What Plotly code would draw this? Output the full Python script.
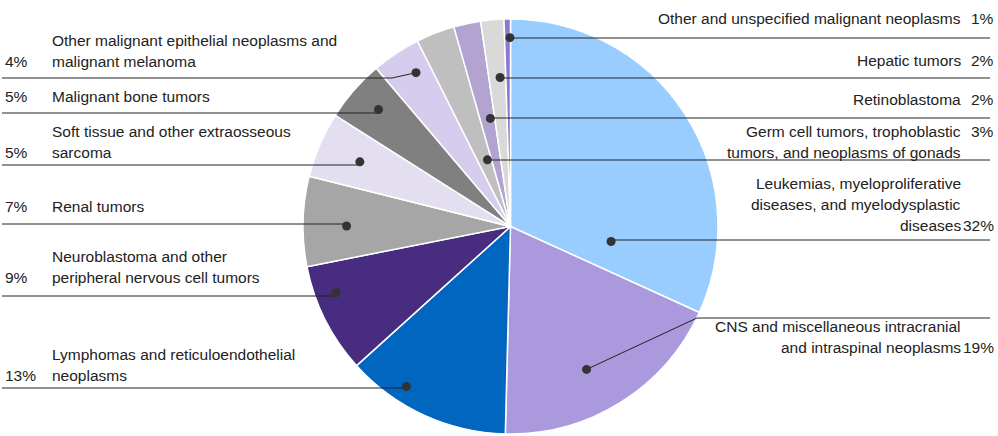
import math
import plotly.graph_objects as go

# slices, clockwise from 12 o'clock
categories = [
    "Leukemias, myeloproliferative diseases, and myelodysplastic diseases",
    "CNS and miscellaneous intracranial and intraspinal neoplasms",
    "Lymphomas and reticuloendothelial neoplasms",
    "Neuroblastoma and other peripheral nervous cell tumors",
    "Renal tumors",
    "Soft tissue and other extraosseous sarcoma",
    "Malignant bone tumors",
    "Other malignant epithelial neoplasms and malignant melanoma",
    "Germ cell tumors, trophoblastic tumors, and neoplasms of gonads",
    "Retinoblastoma",
    "Hepatic tumors",
    "Other and unspecified malignant neoplasms",
]
values = [31.8, 18.6, 12.9, 8.6, 7.0, 5.1, 4.8, 3.8, 3.0, 2.1, 1.8, 0.5]
pct_text = ["32%", "19%", "13%", "9%", "7%", "5%", "5%", "4%", "3%", "2%", "2%", "1%"]
label_lines = [
    ["Leukemias, myeloproliferative", "diseases, and myelodysplastic", "diseases"],
    ["CNS and miscellaneous intracranial", "and intraspinal neoplasms"],
    ["Lymphomas and reticuloendothelial", "neoplasms"],
    ["Neuroblastoma and other", "peripheral nervous cell tumors"],
    ["Renal tumors"],
    ["Soft tissue and other extraosseous", "sarcoma"],
    ["Malignant bone tumors"],
    ["Other malignant epithelial neoplasms and", "malignant melanoma"],
    ["Germ cell tumors, trophoblastic", "tumors, and neoplasms of gonads"],
    ["Retinoblastoma"],
    ["Hepatic tumors"],
    ["Other and unspecified malignant neoplasms"],
]
colors = ["#99ccff", "#ab99dd", "#0066c0", "#472c7f", "#a6a6a6", "#e3dff0",
          "#808080", "#d5ccee", "#bfbfbf", "#b3a3d1", "#d9d9d9", "#8e78d0"]

# layout of callouts (pixel space)
W, H = 998, 436
cx, cy, R = 510.5, 226.5, 207.5
side = ["r", "r", "l", "l", "l", "l", "l", "l", "r", "r", "r", "r"]
dot_frac = [0.86, 0.56, 0.68, 0.69, 0.45, 0.5, 0.53, 0.64, 0.7, 0.7, 0.66, 0.9]
dot_rad = [0.49, 0.78, 0.92, 0.90, 0.79, 0.79, 0.85, 0.87, 0.34, 0.53, 0.72, 0.91]
line_y = [240, 318, 388, 296, 224, 165, 113, 78, 160, 118, 78, 38]
elbow_x = [None, 697, None, None, None, None, None, 392, None, None, None, None]
text_top = [183, 326, 354, 256, 206, 131, 96, 40, 131, 99, 60, 18]
pct_line = [2, 1, 1, 1, 0, 1, 0, 1, 0, 0, 0, 0]

fig = go.Figure()
fig.add_trace(go.Pie(
    labels=categories, values=values, sort=False, direction="clockwise",
    marker=dict(colors=colors, line=dict(color="white", width=1.5)),
    textinfo="none", hoverinfo="label+percent", showlegend=False,
    domain=dict(x=[(cx - R) / W, (cx + R) / W], y=[(H - cy - R) / H, (H - cy + R) / H]),
))

total = sum(values)
cum = 0
font = dict(family="Liberation Sans", size=15.5, color="#222")
for i, v in enumerate(values):
    a0 = cum / total * 360
    cum += v
    a1 = cum / total * 360
    th = math.radians(a0 + (a1 - a0) * dot_frac[i])
    dx = cx + R * dot_rad[i] * math.sin(th)
    dy = cy - R * dot_rad[i] * math.cos(th)
    end = 990 if side[i] == "r" else 2
    if elbow_x[i] is not None:
        pts = [(dx, dy), (elbow_x[i], line_y[i]), (end, line_y[i])]
    else:
        pts = [(dx, dy), (dx, line_y[i]), (end, line_y[i])]
    path = "M " + " L ".join(f"{px:.1f},{py:.1f}" for px, py in pts)
    fig.add_shape(type="path", path=path, xref="x", yref="y", layer="above",
                  line=dict(color="#222", width=1))
    fig.add_shape(type="circle", xref="x", yref="y", layer="above",
                  x0=dx - 4.5, x1=dx + 4.5, y0=dy - 4.5, y1=dy + 4.5,
                  fillcolor="#333", line=dict(width=0))
    for k, t in enumerate(label_lines[i]):
        y = text_top[i] + 21 * k
        if side[i] == "r":
            fig.add_annotation(x=963, y=y, text=t, xanchor="right", yanchor="middle",
                               showarrow=False, font=font, xref="x", yref="y")
        else:
            fig.add_annotation(x=50, y=y, text=t, xanchor="left", yanchor="middle",
                               showarrow=False, font=font, xref="x", yref="y")
    py = text_top[i] + 21 * pct_line[i]
    if side[i] == "r":
        fig.add_annotation(x=996, y=py, text=pct_text[i], xanchor="right", yanchor="middle",
                           showarrow=False, font=font, xref="x", yref="y")
    else:
        fig.add_annotation(x=3, y=py, text=pct_text[i], xanchor="left", yanchor="middle",
                           showarrow=False, font=font, xref="x", yref="y")

fig.update_layout(
    width=W, height=H, margin=dict(l=0, r=0, t=0, b=0),
    paper_bgcolor="white", plot_bgcolor="rgba(0,0,0,0)",
    xaxis=dict(range=[0, W], visible=False, fixedrange=True),
    yaxis=dict(range=[H, 0], visible=False, fixedrange=True),
)
fig.write_html("out.html", config={"displayModeBar": False},
               post_script="document.body.style.margin='0';")
